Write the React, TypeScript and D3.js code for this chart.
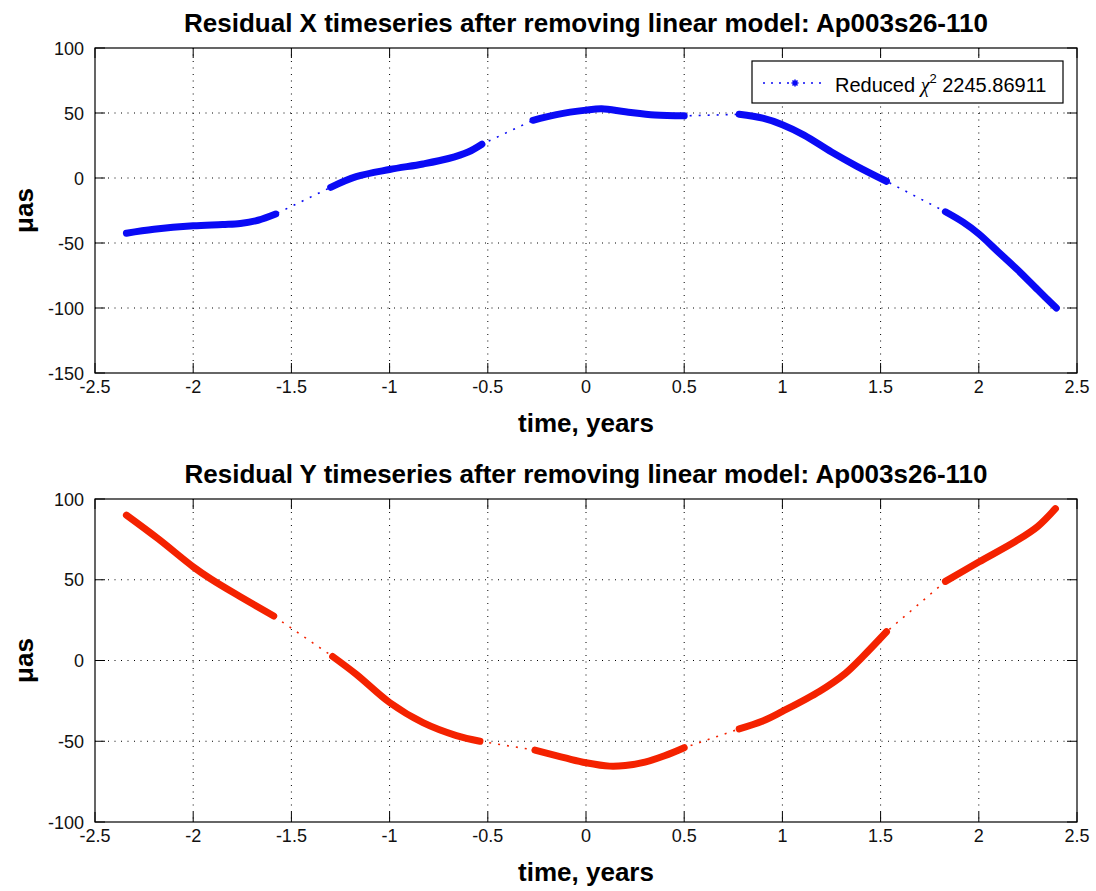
import React from 'react';
import * as d3 from 'd3';

// tick values shared by both panels
const timeTicks = [-2.5, -2, -1.5, -1, -0.5, 0, 0.5, 1, 1.5, 2, 2.5];
const topTicks = [-150, -100, -50, 0, 50, 100];
const bottomTicks = [-100, -50, 0, 50, 100];

// residual X (blue), [time in years, residual in µas], one array per observing run
const residualXSegments: [number, number][][] = [
  [[-2.34, -42.5], [-2.2, -39.5], [-2.0, -36.8], [-1.85, -35.8], [-1.76, -35.0], [-1.67, -32.5], [-1.58, -27.7]],
  [[-1.30, -7.2], [-1.17, 1.0], [-1.0, 6.5], [-0.83, 10.8], [-0.7, 15.0], [-0.6, 20], [-0.53, 26]],
  [[-0.27, 44.4], [-0.15, 48.8], [0, 52.2], [0.08, 53.2], [0.2, 51], [0.35, 48.5], [0.5, 47.8]],
  [[0.78, 49], [0.9, 46], [1.0, 41], [1.11, 33], [1.25, 20], [1.38, 9], [1.53, -2.5]],
  [[1.83, -26], [1.92, -34], [2.0, -43], [2.1, -57], [2.2, -71], [2.3, -86], [2.395, -100]],
];

// residual Y (red)
const residualYSegments: [number, number][][] = [
  [[-2.34, 90], [-2.18, 75.5], [-2.0, 58], [-1.91, 50.5], [-1.76, 39.5], [-1.59, 27.5]],
  [[-1.29, 2.5], [-1.17, -8.5], [-1.0, -26], [-0.83, -38.5], [-0.66, -46.5], [-0.54, -50]],
  [[-0.26, -55.5], [-0.1, -60.5], [0, -63.3], [0.12, -65.4], [0.2, -65], [0.3, -62.9], [0.4, -59], [0.5, -54]],
  [[0.78, -42.4], [0.9, -37.5], [1.0, -31.5], [1.19, -19], [1.32, -8], [1.41, 2.5], [1.53, 17.8]],
  [[1.83, 49], [2.0, 61], [2.19, 74], [2.3, 83], [2.39, 94]],
];

const titleX = 'Residual X timeseries after removing linear model: Ap003s26-110';
const titleY = 'Residual Y timeseries after removing linear model: Ap003s26-110';
const xLabel = 'time, years';
const yLabel = 'μas';
const legendText = 'Reduced';
const legendValue = '2245.86911';

const W = 1096;
const H = 891;
const LEFT = 95;
const RIGHT = 1077;
const FONT = '"Liberation Sans", Arial, Helvetica, sans-serif';

const starPath = (cx: number, cy: number, r: number) => {
  const d = r * 0.72;
  return `M${cx - r},${cy}L${cx + r},${cy}M${cx},${cy - r}L${cx},${cy + r}` +
    `M${cx - d},${cy - d}L${cx + d},${cy + d}M${cx - d},${cy + d}L${cx + d},${cy - d}`;
};

type PanelProps = {
  top: number;
  bottom: number;
  yDomain: [number, number];
  yTicks: number[];
  segments: [number, number][][];
  color: string;
  title: string;
  titleBase: number;
  xLabelBase: number;
  legend?: boolean;
};

const Panel = (props: PanelProps) => {
  const { top, bottom, yDomain, yTicks, segments, color, title, titleBase, xLabelBase, legend } = props;
  const x = d3.scaleLinear().domain([-2.5, 2.5]).range([LEFT, RIGHT]);
  const y = d3.scaleLinear().domain(yDomain).range([bottom, top]);

  const band = d3.line<[number, number]>()
    .x(d => x(d[0]))
    .y(d => y(d[1]))
    .curve(d3.curveCatmullRom.alpha(0.5));
  const connector = d3.line<[number, number]>()
    .x(d => x(d[0]))
    .y(d => y(d[1]));

  const tickLen = 10;
  const fmt = (v: number) => String(v);

  return (
    <g>
      {/* grid */}
      {timeTicks.slice(1, -1).map(t => (
        <line key={'gx' + t} x1={x(t)} x2={x(t)} y1={top} y2={bottom}
          stroke="#000" strokeWidth={1} strokeDasharray="1,5.5" />
      ))}
      {yTicks.slice(1, -1).map(t => (
        <line key={'gy' + t} x1={LEFT} x2={RIGHT} y1={y(t)} y2={y(t)}
          stroke="#000" strokeWidth={1} strokeDasharray="1,5.5" />
      ))}

      {/* data: dotted connector + dense marker bands */}
      <path d={connector(segments.flat()) || ''} fill="none" stroke={color}
        strokeWidth={1.6} strokeDasharray="2,7" />
      {segments.map((s, i) => (
        <path key={'seg' + i} d={band(s) || ''} fill="none" stroke={color}
          strokeWidth={7} strokeLinejoin="round" strokeLinecap="round" />
      ))}

      {/* box + inward ticks */}
      <rect x={LEFT} y={top} width={RIGHT - LEFT} height={bottom - top}
        fill="none" stroke="#000" strokeWidth={1.2} />
      {timeTicks.map(t => (
        <g key={'tx' + t}>
          <line x1={x(t)} x2={x(t)} y1={bottom} y2={bottom - tickLen} stroke="#000" />
          <line x1={x(t)} x2={x(t)} y1={top} y2={top + tickLen} stroke="#000" />
          <text x={x(t)} y={bottom + 19.5} textAnchor="middle" fontSize={18}
            fontFamily={FONT} fill="#111">{fmt(t)}</text>
        </g>
      ))}
      {yTicks.map(t => (
        <g key={'ty' + t}>
          <line x1={LEFT} x2={LEFT + tickLen} y1={y(t)} y2={y(t)} stroke="#000" />
          <line x1={RIGHT} x2={RIGHT - tickLen} y1={y(t)} y2={y(t)} stroke="#000" />
          <text x={84} y={y(t) + 6.5} textAnchor="end" fontSize={18}
            fontFamily={FONT} fill="#111">{fmt(t)}</text>
        </g>
      ))}

      {/* labels */}
      <text x={(LEFT + RIGHT) / 2} y={titleBase} textAnchor="middle" fontSize={26}
        fontWeight="bold" fontFamily={FONT} fill="#000">{title}</text>
      <text x={(LEFT + RIGHT) / 2} y={xLabelBase} textAnchor="middle" fontSize={26}
        fontWeight="bold" fontFamily={FONT} fill="#000">{xLabel}</text>
      <text transform={`translate(33,${(top + bottom) / 2}) rotate(-90)`} textAnchor="middle"
        fontSize={26} fontWeight="bold" fontFamily={FONT} fill="#000">{yLabel}</text>

      {legend && (
        <g>
          <rect x={752} y={61} width={311} height={42} fill="#fff" stroke="#000" strokeWidth={1.2} />
          <line x1={763} x2={826} y1={83} y2={83} stroke={color} strokeWidth={1.6} strokeDasharray="2,6" />
          <path d={starPath(795, 83, 3.5)} stroke={color} strokeWidth={1.6} fill="none" />
          <text x={835} y={92} fontSize={20} fontFamily={FONT} fill="#000">
            {legendText + ' '}
            <tspan fontFamily='"Liberation Serif", "DejaVu Serif", serif' fontStyle="italic">χ</tspan>
            <tspan fontSize={13} dy={-9}>2</tspan>
            <tspan dy={9}>{' ' + legendValue}</tspan>
          </text>
        </g>
      )}
    </g>
  );
};

export default function App() {
  return (
    <svg width={W} height={H} style={{ position: 'absolute', left: 0, top: 0, background: '#fff' }}>
      <rect x={0} y={0} width={W} height={H} fill="#fff" />
      <Panel top={48} bottom={373} yDomain={[-150, 100]} yTicks={topTicks}
        segments={residualXSegments} color="#0a0af5" title={titleX}
        titleBase={32} xLabelBase={432} legend />
      <Panel top={499} bottom={822} yDomain={[-100, 100]} yTicks={bottomTicks}
        segments={residualYSegments} color="#f42200" title={titleY}
        titleBase={483} xLabelBase={881} />
    </svg>
  );
}
